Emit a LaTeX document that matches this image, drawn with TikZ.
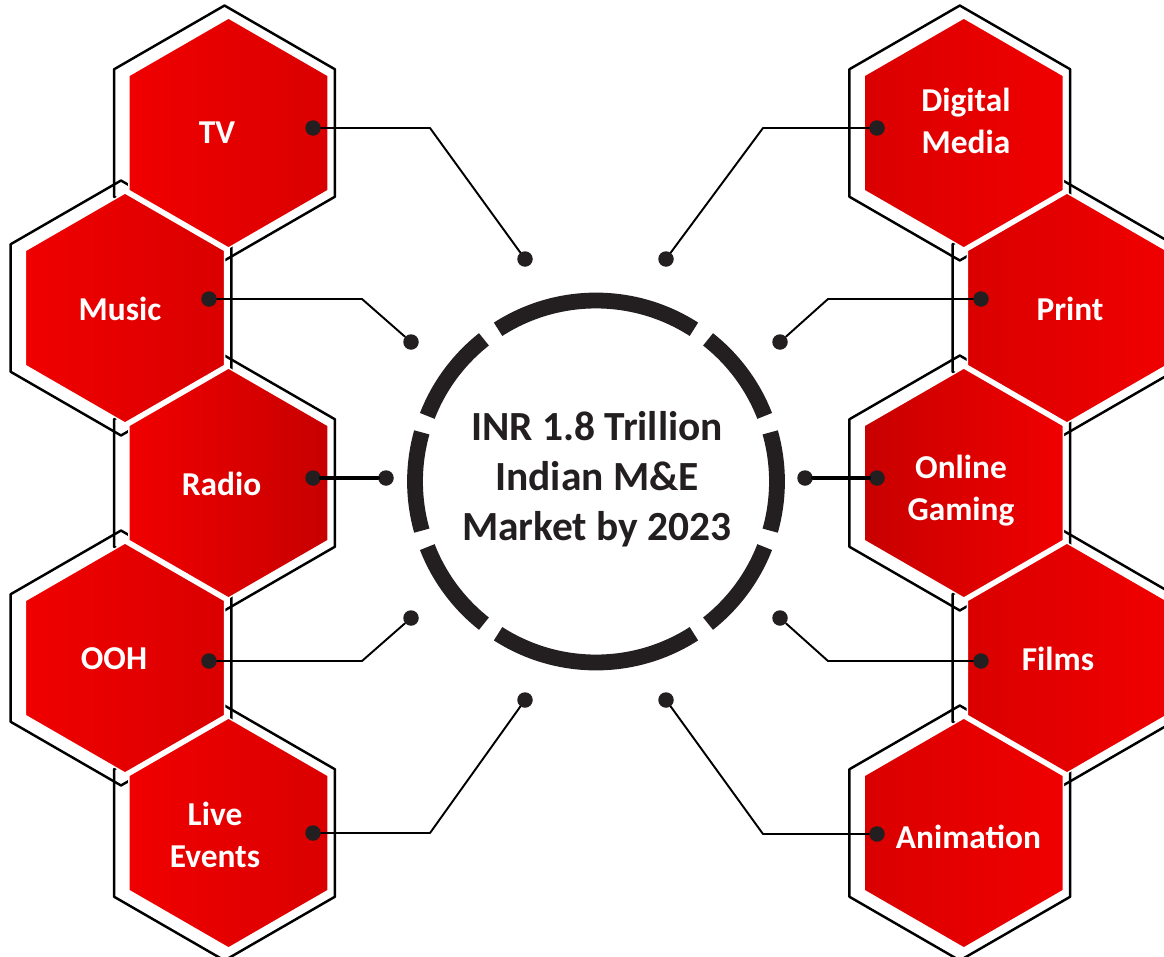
\documentclass[tikz,border=0pt]{standalone}
\usepackage{fontspec}
\setmainfont{Carlito}
\usetikzlibrary{shapes.geometric,calc}
\definecolor{hexred}{RGB}{240,0,0}
\definecolor{hexdark}{RGB}{218,0,0}
\definecolor{hexdeep}{RGB}{200,0,0}
\definecolor{ink}{RGB}{35,31,32}

\begin{document}
\begin{tikzpicture}[x=0.02cm,y=-0.02cm,line cap=round,line join=round,
  hexframe/.style={regular polygon,regular polygon sides=6,shape border rotate=30,minimum size=5.1cm,inner sep=0pt,draw=black,line width=1.4pt},
  hexfill/.style={regular polygon,regular polygon sides=6,shape border rotate=30,minimum size=4.6cm,inner sep=0pt,draw=white,line width=0.8pt},
  lshade/.style={left color=hexred,right color=hexdark},
  rshade/.style={left color=hexdark,right color=hexred},
  hexlabel/.style={text=white,font=\fontsize{19}{23.8}\selectfont\bfseries,align=center},
  knob/.style={circle,fill=ink,inner sep=0pt,minimum size=0.31cm},
  wire/.style={black,line width=1.1pt},
  ring/.style={ink,line width=9pt,line cap=butt}]
	\useasboundingbox (0,0) rectangle (1164,957);
	\clip (0,0) rectangle (1164,957);
	\node[hexframe] (fTV) at (224.5,133) {};
	\node[hexframe] (fMusic) at (121,308) {};
	\node[hexframe] (fRadio) at (224.5,483) {};
	\node[hexframe] (fOOH) at (121,658) {};
	\node[hexframe] (fLive) at (224.5,833) {};
	\node[hexframe] (fDigital) at (959.8,133) {};
	\node[hexframe] (fPrint) at (1063,308) {};
	\node[hexframe] (fGaming) at (959.8,483) {};
	\node[hexframe] (fFilms) at (1063,658) {};
	\node[hexframe] (fAnim) at (959.8,833) {};
	\node[hexfill,lshade] (tv) at (228.5,133) {};
	\node[hexfill,lshade] (music) at (125,308) {};
	\node[hexfill,lshade,right color=hexdeep] (radio) at (228.5,483) {};
	\node[hexfill,lshade] (ooh) at (125,658) {};
	\node[hexfill,lshade] (live) at (228.5,833) {};
	\node[hexfill,rshade] (digital) at (963.8,133) {};
	\node[hexfill,rshade] (print) at (1067,308) {};
	\node[hexfill,rshade,left color=hexdeep] (gaming) at (963.8,483) {};
	\node[hexfill,rshade] (films) at (1067,658) {};
	\node[hexfill,rshade] (anim) at (963.8,833) {};
	\node[hexlabel] (tvTxt) at (217,133) {TV};
	\node[hexlabel] (musicTxt) at (120,309) {Music};
	\node[hexlabel] (radioTxt) at (221.5,484) {Radio};
	\node[hexlabel] (oohTxt) at (114,659) {OOH};
	\node[hexlabel] (liveTxt) at (215,835) {Live\\Events};
	\node[hexlabel] (digitalTxt) at (966,120.5) {Digital\\Media};
	\node[hexlabel] (printTxt) at (1070,309) {Print};
	\node[hexlabel] (gamingTxt) at (961,491) {Online\\Gaming};
	\node[hexlabel] (filmsTxt) at (1058,659) {Films};
	\node[hexlabel] (animTxt) at (968.5,837) {Animation};
	\coordinate (mid) at (596,481.5);
	\draw[ring] ([shift={(-15.75:181)}]mid) arc[start angle=-15.75,end angle=15.75,radius=181];
	\draw[ring] ([shift={(21.25:181)}]mid) arc[start angle=21.25,end angle=51.75,radius=181];
	\draw[ring] ([shift={(57.25:181)}]mid) arc[start angle=57.25,end angle=122.75,radius=181];
	\draw[ring] ([shift={(128.25:181)}]mid) arc[start angle=128.25,end angle=158.75,radius=181];
	\draw[ring] ([shift={(164.25:181)}]mid) arc[start angle=164.25,end angle=195.75,radius=181];
	\draw[ring] ([shift={(201.25:181)}]mid) arc[start angle=201.25,end angle=231.75,radius=181];
	\draw[ring] ([shift={(237.25:181)}]mid) arc[start angle=237.25,end angle=302.75,radius=181];
	\draw[ring] ([shift={(308.25:181)}]mid) arc[start angle=308.25,end angle=338.75,radius=181];
	\node[text=ink,font=\fontsize{23.6}{28.4}\selectfont\bfseries,align=center] (hub) at (597,479) {INR 1.8 Trillion\\Indian M\&E\\Market by 2023};
	\node[knob] (dTV) at (313,128) {};
	\node[knob] (dMusic) at (209,299) {};
	\node[knob] (dRadio) at (313,478) {};
	\node[knob] (dOOH) at (209,661) {};
	\node[knob] (dLive) at (313,833) {};
	\node[knob] (dDigital) at (877,128) {};
	\node[knob] (dPrint) at (981,299) {};
	\node[knob] (dGaming) at (877,478) {};
	\node[knob] (dFilms) at (981,661) {};
	\node[knob] (dAnim) at (877,834) {};
	\node[knob] (iTV) at (525,259) {};
	\node[knob] (iMusic) at (411,342) {};
	\node[knob] (iRadio) at (386,478) {};
	\node[knob] (iOOH) at (411,618) {};
	\node[knob] (iLive) at (525,700) {};
	\node[knob] (iDigital) at (666,259) {};
	\node[knob] (iPrint) at (780,342) {};
	\node[knob] (iGaming) at (805,478) {};
	\node[knob] (iFilms) at (780,618) {};
	\node[knob] (iAnim) at (666,700) {};
	\coordinate (bTV) at (430,128);
	\coordinate (bMusic) at (362,299);
	\coordinate (bOOH) at (362,661);
	\coordinate (bLive) at (430,833);
	\coordinate (bDigital) at (763,128);
	\coordinate (bPrint) at (828,299);
	\coordinate (bFilms) at (828,661);
	\coordinate (bAnim) at (763,834);
	\draw[wire] (dTV) -- (bTV) -- (iTV);
	\draw[wire] (dMusic) -- (bMusic) -- (iMusic);
	\draw[wire,line width=2.3pt] (dRadio) -- (iRadio);
	\draw[wire] (dOOH) -- (bOOH) -- (iOOH);
	\draw[wire] (dLive) -- (bLive) -- (iLive);
	\draw[wire] (dDigital) -- (bDigital) -- (iDigital);
	\draw[wire] (dPrint) -- (bPrint) -- (iPrint);
	\draw[wire,line width=2.3pt] (dGaming) -- (iGaming);
	\draw[wire] (dFilms) -- (bFilms) -- (iFilms);
	\draw[wire] (dAnim) -- (bAnim) -- (iAnim);
\end{tikzpicture}
\end{document}
